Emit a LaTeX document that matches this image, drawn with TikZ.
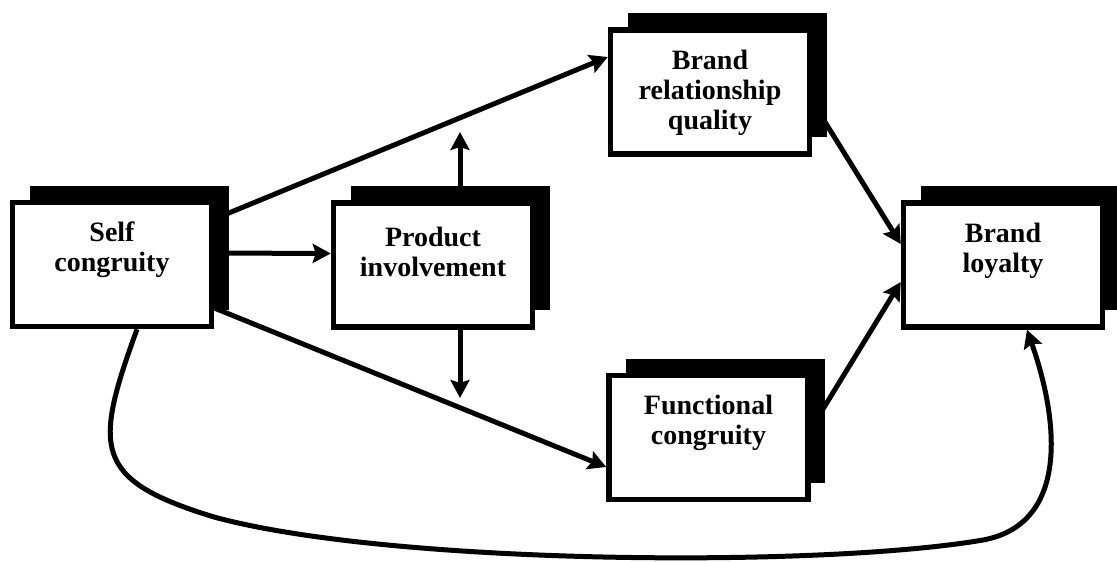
\documentclass[tikz,border=0pt]{standalone}
\usepackage{fontspec}
\setmainfont{Liberation Serif}
\usetikzlibrary{arrows.meta,shadows,backgrounds}
\begin{document}
\begin{tikzpicture}[x=1pt,y=-1pt,
  box/.style={draw=black, line width=5.5pt, fill=white,
    minimum width=199pt, minimum height=124pt, inner sep=0pt,
    general shadow={fill=black, shadow xshift=17pt, shadow yshift=17pt}},
  lbl/.style={align=center, inner sep=0pt,
    font=\fontsize{28}{30}\selectfont\bfseries},
  conn/.style={line width=5pt, draw=black,
    -{Stealth[length=18pt,width=19pt,inset=3pt]}},
  ]
\useasboundingbox (0,0) rectangle (1117,562);

% boxes with solid shadows
\node[box] (self)  at (112,264.5) {};
\node[box] (prod)  at (433,265)   {};
\node[box] (brq)   at (710,92)    {};
\node[box] (func)  at (708.5,437.5) {};
\node[box] (loyal) at (1003,265)  {};

% box texts
\node[lbl] (selfT)  at ([yshift=15pt]self.center)  {Self\\congruity};
\node[lbl] (prodT)  at ([yshift=13pt]prod.center)  {Product\\involvement};
\node[lbl] (brqT)   at ([yshift=-1pt]brq.center)   {Brand\\relationship\\quality};
\node[lbl] (funcT)  at ([yshift=15pt]func.center)  {Functional\\congruity};
\node[lbl] (loyalT) at ([yshift=14pt]loyal.center) {Brand\\loyalty};

% free ends and bends
\coordinate (upEnd)   at (460,132);
\coordinate (downEnd) at (460,398);
\coordinate (c1) at (214,517);
\coordinate (c2) at (983,540);

% connectors sit behind the boxes and their shadows
\begin{pgfonlayer}{background}
\draw[conn] ([yshift=45.5pt]self.east) -- ([yshift=35pt]brq.west);
\draw[conn] ([yshift=11.5pt]self.east) -- ([yshift=11.5pt]prod.west);
\draw[conn] ([yshift=-43.5pt]self.east) -- ([yshift=-29.5pt]func.west);
\draw[conn] ([xshift=27pt]prod.north) -- (upEnd);
\draw[conn] ([xshift=27pt]prod.south) -- (downEnd);
\draw[conn] ([yshift=-9.5pt]brq.east) -- ([yshift=21pt]loyal.west);
\draw[conn] ([yshift=8.5pt]func.east) -- ([yshift=-17pt]loyal.west);
\draw[conn] ([xshift=25pt]self.south) to[out=-110,in=163,looseness=1.6] (c1)
  .. controls (390,565) and (820,568) .. (c2)
  .. controls (1065,525) and (1062,430) .. ([xshift=24pt]loyal.south);
\end{pgfonlayer}
\end{tikzpicture}
\end{document}
